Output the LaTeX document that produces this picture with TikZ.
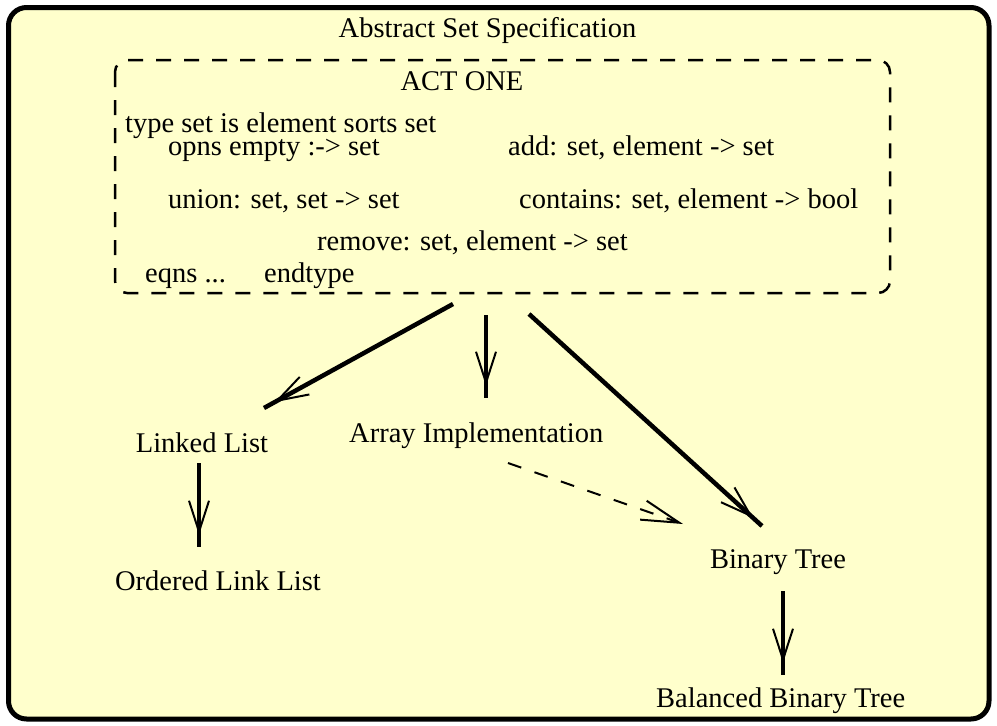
\documentclass[tikz,border=0pt]{standalone}
\usepackage{fontspec}
\setmainfont{Liberation Serif}
\usetikzlibrary{arrows.meta,decorations.markings}
\definecolor{bgyellow}{RGB}{255,255,204}
\begin{document}
\begin{tikzpicture}[x=1pt,y=-1pt,
  txt/.style={inner sep=0pt, font=\fontsize{28.5}{34}\selectfont},
  lbl/.style={txt, anchor=base},
  ltxt/.style={txt, anchor=base west},
  thickarrow/.style={line width=4.5pt, postaction={decorate},
    decoration={markings, mark=at position -12pt with {\arrow{Straight Barb[length=31pt,width=20pt,line width=2pt]}}}},
  dasharrow/.style={line width=2pt, dash pattern=on 14pt off 14pt,
    -{Straight Barb[length=38pt,width=20pt,line width=2pt]}}
]
\useasboundingbox (0,0) rectangle (997,726);
\fill[white] (0,0) rectangle (997,726);
% outer box
\draw[line width=5pt, fill=bgyellow, rounded corners=18pt] (8.5,7.5) rectangle (989,719);
% dashed ACT ONE box
\draw[line width=2.5pt, dash pattern=on 15pt off 13pt, rounded corners=12pt] (115,60) rectangle (890,293);

% texts
\node[lbl] (title) at (487.5,37) {Abstract Set Specification};
\node[lbl] (act) at (462,90) {ACT ONE};
\node[ltxt] (type) at (125,132) {type set is element sorts set};
\node[ltxt] (opns) at (168,155) {opns empty :-> set};
\node[ltxt] (add) at (508,155) {add: set, element -> set};
\node[ltxt] (union) at (168,208) {union: set, set -> set};
\node[ltxt] (contains) at (519,208) {contains: set, element -> bool};
\node[ltxt] (remove) at (317,250) {remove: set, element -> set};
\node[ltxt] (eqns) at (145,282) {eqns ...};
\node[ltxt] (endtype) at (264,282) {endtype};

\node[lbl] (linked) at (202,452) {Linked List};
\node[ltxt] (array) at (349,442) {Array Implementation};
\node[lbl] (ordered) at (218,590) {Ordered Link List};
\node[lbl] (binary) at (778,568) {Binary Tree};
\node[ltxt] (balanced) at (656,707) {Balanced Binary Tree};

% arrow end points
\coordinate (a1s) at (453,304);
\coordinate (a1e) at (264,408);
\coordinate (a2s) at (486,315);
\coordinate (a2e) at (486,398);
\coordinate (a3s) at (529,314);
\coordinate (a3e) at (762,526);
\coordinate (d1s) at (508,463);
\coordinate (d1e) at (683,524);
\coordinate (a4s) at (199,463);
\coordinate (a4e) at (199,547);
\coordinate (a5s) at (783,591);
\coordinate (a5e) at (783,675);

\draw[thickarrow] (a1s) -- (a1e);
\draw[thickarrow] (a2s) -- (a2e);
\draw[thickarrow] (a3s) -- (a3e);
\draw[dasharrow] (d1s) -- (d1e);
\draw[thickarrow] (a4s) -- (a4e);
\draw[thickarrow] (a5s) -- (a5e);
\end{tikzpicture}
\end{document}
